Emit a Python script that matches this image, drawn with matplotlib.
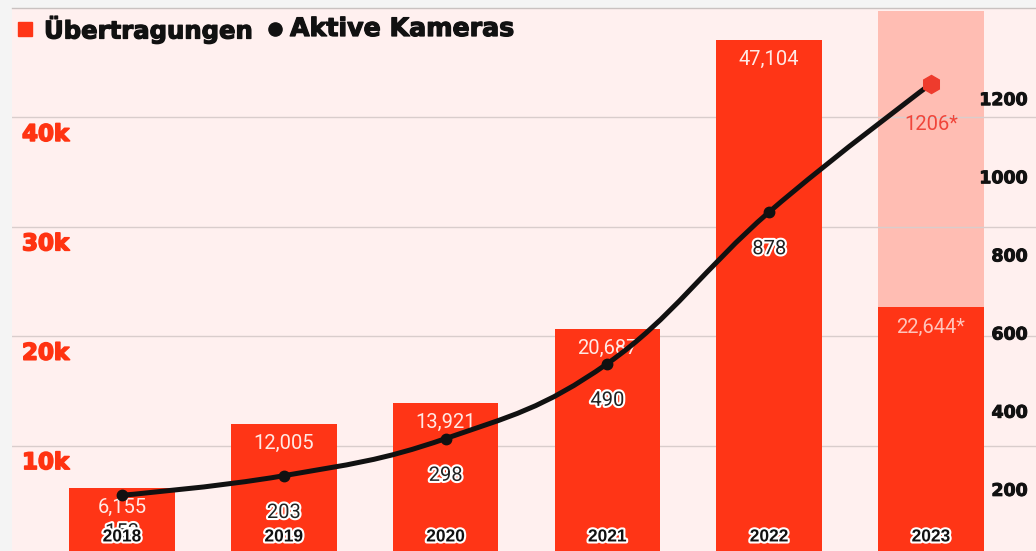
import matplotlib
matplotlib.use('Agg')
import numpy as np
import matplotlib.pyplot as plt
from matplotlib.path import Path
from matplotlib.patches import PathPatch
from matplotlib.lines import Line2D
import matplotlib.patheffects as pe
from matplotlib.transforms import offset_copy, blended_transform_factory

# ---------------- data ----------------
years = ['2018', '2019', '2020', '2021', '2022', '2023']
transmissions = [6155, 12005, 13921, 20687, 47104, 22644]
transmission_labels = ['6,155', '12,005', '13,921', '20,687', '47,104', '22,644*']
cameras = [153, 203, 298, 490, 878, 1206]
camera_labels = ['153', '203', '298', '490', '878', '1206*']
left_ticks = [10000, 20000, 30000, 40000]
left_tick_labels = ['10k', '20k', '30k', '40k']
right_ticks = [200, 400, 600, 800, 1000, 1200]
right_tick_labels = ['200', '400', '600', '800', '1000', '1200']
legend_labels = ['Übertragungen', 'Aktive Kameras']

# ---------------- style ----------------
RED = '#ff3516'
BAND = '#ffbdb3'
PLOT_BG = '#fff0ef'
FIG_BG = '#f4f4f4'
GRID = '#d9cdcc'
BAR_W = 0.652
BAND_BOTTOM, BAND_TOP = 5900, 49700

W, H = 1036, 551
fig = plt.figure(figsize=(W / 100, H / 100), dpi=100, facecolor=FIG_BG)
ax = fig.add_axes([12 / W, -4 / H, 1024 / W, 547 / H])
ax.set_facecolor(PLOT_BG)
x = np.arange(len(years))
ax.set_xlim(-0.68, 5.649)
ax.set_ylim(0, 50000)

# highlight band for last (estimated) year
ax.bar(x[-1], BAND_TOP - BAND_BOTTOM, bottom=BAND_BOTTOM, width=BAR_W,
       color=BAND, zorder=0.3, linewidth=0)

ax.bar(x, transmissions, width=BAR_W, color=RED, zorder=2, linewidth=0)

for i, (xi, v, lab) in enumerate(zip(x, transmissions, transmission_labels)):
    col = '#ffc4bb' if i == len(x) - 1 else '#ffe9e5'
    ax.annotate(lab, (xi, v), xytext=(0, -14.5), textcoords='offset points',
                ha='center', va='center', fontsize=14.5, family='Roboto',
                color=col, zorder=3)

ax.set_yticks(left_ticks)
ax.set_yticklabels([])
ax.set_xticks([])
ax.tick_params(length=0)
ax.grid(axis='y', color=GRID, linewidth=1)
ax.set_axisbelow(True)
for s in ['left', 'right', 'bottom']:
    ax.spines[s].set_visible(False)
ax.spines['top'].set_color('#c9c1c0')
ax.spines['top'].set_linewidth(1)

tr_left = offset_copy(blended_transform_factory(ax.transAxes, ax.transData),
                      fig=fig, y=-17, units='dots')
for t, lab in zip(left_ticks, left_tick_labels):
    ax.text(0.0098, t, lab, transform=tr_left, ha='left', va='center',
            fontsize=16.5, fontweight='bold', family='DejaVu Sans', color='#ff3311',
            path_effects=[pe.withStroke(linewidth=1.2, foreground='#ff3311')])

# ---------------- line (secondary axis) ----------------
ax2 = ax.twinx()
ax2.set_ylim(0, 1400)
ax2.set_yticks([])
for s in ax2.spines.values():
    s.set_visible(False)

tr_right = offset_copy(blended_transform_factory(ax2.transAxes, ax2.transData),
                       fig=fig, y=-14, units='dots')
for t, lab in zip(right_ticks, right_tick_labels):
    ax2.text(0.992, t, lab, transform=tr_right, ha='right', va='center',
             fontsize=12.5, fontweight='bold', family='DejaVu Sans', color='#111111',
             path_effects=[pe.withStroke(linewidth=0.7, foreground='#111111')])

# smooth spline path through the data points (bezier curves)
pts = list(zip(x.astype(float), [float(c) for c in cameras]))
n = len(pts)
lc = [None] * n
rc = [None] * n
sm, den = 1.5, 2.5
for i in range(1, n - 1):
    lx, ly = pts[i - 1]
    px, py = pts[i]
    nx, ny = pts[i + 1]
    lcx, lcy = (sm * px + lx) / den, (sm * py + ly) / den
    rcx, rcy = (sm * px + nx) / den, (sm * py + ny) / den
    if rcx != lcx:
        corr = ((rcy - lcy) * (rcx - px)) / (rcx - lcx) + py - rcy
        lcy += corr
        rcy += corr
    if lcy > ly and lcy > py:
        lcy = max(ly, py); rcy = 2 * py - lcy
    elif lcy < ly and lcy < py:
        lcy = min(ly, py); rcy = 2 * py - lcy
    if rcy > ny and rcy > py:
        rcy = max(ny, py); lcy = 2 * py - rcy
    elif rcy < ny and rcy < py:
        rcy = min(ny, py); lcy = 2 * py - rcy
    lc[i] = (lcx, lcy)
    rc[i] = (rcx, rcy)

verts = [pts[0]]
codes = [Path.MOVETO]
for i in range(1, n):
    c1 = rc[i - 1] if rc[i - 1] is not None else pts[i - 1]
    c2 = lc[i] if lc[i] is not None else pts[i]
    verts += [c1, c2, pts[i]]
    codes += [Path.CURVE4] * 3
ax2.add_patch(PathPatch(Path(verts, codes), fill=False, edgecolor='#111111',
                        linewidth=3.6, capstyle='round', zorder=4))
ax2.plot(x[:-1], cameras[:-1], 'o', color='#111111', markersize=7.5, zorder=5)
ax2.plot(x[-1:], cameras[-1:], 'h', color='#ee3b2d', markersize=13, zorder=5)

for i, (xi, c, lab) in enumerate(zip(x, cameras, camera_labels)):
    if i == n - 1:
        ax2.annotate(lab, (xi, c), xytext=(0, -29.5), textcoords='offset points',
                     ha='center', va='center', fontsize=14.5, family='Roboto',
                     color='#f0453a', zorder=6)
    else:
        ax2.annotate(lab, (xi, c), xytext=(0, -26.5), textcoords='offset points',
                     ha='center', va='center', fontsize=14.5, family='Roboto',
                     color='#222222', zorder=6,
                     path_effects=[pe.withStroke(linewidth=3, foreground='white')])

tr_year = blended_transform_factory(ax2.transData, ax2.transAxes)
for xi, yr in zip(x, years):
    ax2.text(xi, 0.033, yr, transform=tr_year, ha='center', va='center',
             fontsize=12.5, fontweight='bold', family='Liberation Sans', color='#111111',
             zorder=10, path_effects=[pe.withStroke(linewidth=3, foreground='white')])

# ---------------- legend ----------------
ly = 1 - 29 / H
fig.add_artist(Line2D([25 / W], [ly], marker='s', markersize=10, color=RED,
                      linestyle='none', transform=fig.transFigure))
fig.text(44 / W, ly, legend_labels[0], ha='left', va='center', fontsize=17.5,
         fontweight='bold', family='DejaVu Sans', color='#111111',
         path_effects=[pe.withStroke(linewidth=0.9, foreground='#111111')])
fig.add_artist(Line2D([275 / W], [ly], marker='o', markersize=9.5, color='#111111',
                      linestyle='none', transform=fig.transFigure))
fig.text(290 / W, ly, legend_labels[1], ha='left', va='center', fontsize=18.2,
         fontweight='bold', family='DejaVu Sans', color='#111111',
         path_effects=[pe.withStroke(linewidth=0.9, foreground='#111111')])

fig.savefig('out.png', dpi=100, facecolor=fig.get_facecolor())
